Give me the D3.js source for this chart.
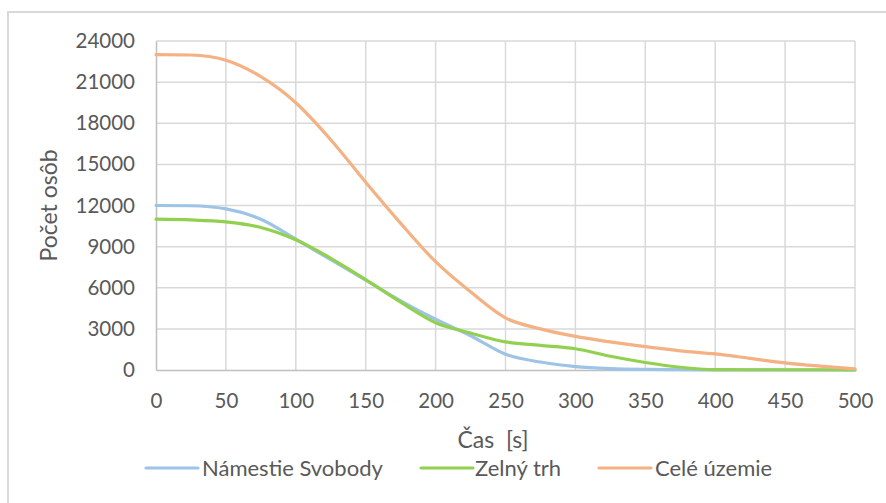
<!DOCTYPE html>
<html>
<head>
<meta charset="utf-8">
<script src="https://cdn.jsdelivr.net/npm/d3@7"></script>
<style>
  html, body { margin: 0; padding: 0; background: #fff; }
  svg { display: block; font-family: Lato, "Open Sans", sans-serif; }
</style>
</head>
<body>
<svg id="chart" width="886" height="503"></svg>
<script>
// Time in seconds
const times = [0, 25, 50, 75, 100, 125, 150, 175, 200, 225, 250, 275, 300, 325, 350, 375, 400, 425, 450, 475, 500];

// Number of persons remaining in each area
const namestieSvobody = [12000, 11980, 11750, 11000, 9550, 8050, 6550, 5050, 3700, 2500, 1150, 580, 250, 100, 40, 20, 10, 5, 0, 0, 0];
const zelnyTrh        = [11000, 10950, 10800, 10400, 9500, 8150, 6600, 4950, 3450, 2700, 2050, 1800, 1550, 1000, 550, 200, 30, 20, 20, 20, 0];
const celeUzemie      = [23000, 22980, 22600, 21400, 19500, 16800, 13700, 10700, 7900, 5700, 3800, 3000, 2450, 2050, 1700, 1400, 1170, 850, 520, 280, 80];

const seriesNames  = ["Námestie Svobody", "Zelný trh", "Celé územie"];
const seriesValues = [namestieSvobody, zelnyTrh, celeUzemie];
const seriesColors = ["#9DC3E6", "#92D050", "#F4B183"];

const xTicks = [0, 50, 100, 150, 200, 250, 300, 350, 400, 450, 500];
const yTicks = [0, 3000, 6000, 9000, 12000, 15000, 18000, 21000, 24000];

const xTitle = "Čas  [s]";
const yTitle = "Počet osôb";

const svg = d3.select("#chart");
const textColor = "#595959";
const gridColor = "#D9D9D9";

// Outer chart frame
svg.append("rect")
  .attr("x", 8).attr("y", 12)
  .attr("width", 900).attr("height", 520)
  .attr("fill", "none")
  .attr("stroke", gridColor)
  .attr("stroke-width", 2);

const plot = { left: 156, right: 855, top: 41, bottom: 370 };

const x = d3.scaleLinear().domain([0, 500]).range([plot.left, plot.right]);
const y = d3.scaleLinear().domain([0, 24000]).range([plot.bottom, plot.top]);

// Gridlines
const grid = svg.append("g");
grid.selectAll("line.h").data(yTicks.filter(d => d > 0)).join("line")
  .attr("x1", plot.left).attr("x2", plot.right)
  .attr("y1", d => y(d)).attr("y2", d => y(d))
  .attr("stroke", gridColor).attr("stroke-width", 1.5);
grid.selectAll("line.v").data(xTicks.filter(d => d > 0)).join("line")
  .attr("x1", d => x(d)).attr("x2", d => x(d))
  .attr("y1", plot.top).attr("y2", plot.bottom)
  .attr("stroke", gridColor).attr("stroke-width", 1.5);

// Axes
const xAxis = d3.axisBottom(x).tickValues(xTicks).tickSize(0).tickPadding(23);
const gx = svg.append("g").attr("transform", `translate(0,${plot.bottom})`).call(xAxis);
gx.select(".domain").attr("stroke", "#BFBFBF").attr("stroke-width", 1.5);
gx.selectAll("text").attr("fill", textColor).style("font-size", "20.5px").style("font-family", "Lato, sans-serif");

const yAxis = d3.axisLeft(y).tickValues(yTicks).tickFormat(d3.format("d")).tickSize(0).tickPadding(21);
const gy = svg.append("g").attr("transform", `translate(${plot.left},0)`).call(yAxis);
gy.select(".domain").attr("stroke", "#BFBFBF").attr("stroke-width", 1.5);
gy.selectAll("text").attr("fill", textColor).style("font-size", "20.5px").style("font-family", "Lato, sans-serif");

// Series lines
const line = d3.line()
  .x((d, i) => x(times[i]))
  .y(d => y(d))
  .curve(d3.curveMonotoneX);

svg.append("g").selectAll("path").data(seriesValues).join("path")
  .attr("d", d => line(d))
  .attr("fill", "none")
  .attr("stroke", (d, i) => seriesColors[i])
  .attr("stroke-width", 3.2)
  .attr("stroke-linecap", "round")
  .attr("stroke-linejoin", "round");

// Axis titles
svg.append("text")
  .attr("x", 493)
  .attr("y", 448)
  .attr("text-anchor", "middle")
  .attr("fill", textColor)
  .style("font-size", "23px")
  .style("white-space", "pre")
  .text(xTitle);

svg.append("text")
  .attr("transform", `translate(57,${(plot.top + plot.bottom) / 2}) rotate(-90)`)
  .attr("text-anchor", "middle")
  .attr("fill", textColor)
  .style("font-size", "23px")
  .text(yTitle);

// Legend
const legendItems = [
  { x: 146, textX: 202 },
  { x: 421, textX: 475 },
  { x: 599, textX: 655 }
];
const legend = svg.append("g");
const legY = 468;
legendItems.forEach((item, i) => {
  legend.append("line")
    .attr("x1", item.x).attr("x2", item.x + 52)
    .attr("y1", legY).attr("y2", legY)
    .attr("stroke", seriesColors[i]).attr("stroke-width", 3.2)
    .attr("stroke-linecap", "round");
  legend.append("text")
    .attr("x", item.textX).attr("y", legY + 8)
    .attr("fill", textColor)
    .style("font-size", "22px")
    .text(seriesNames[i]);
});
</script>
</body>
</html>
